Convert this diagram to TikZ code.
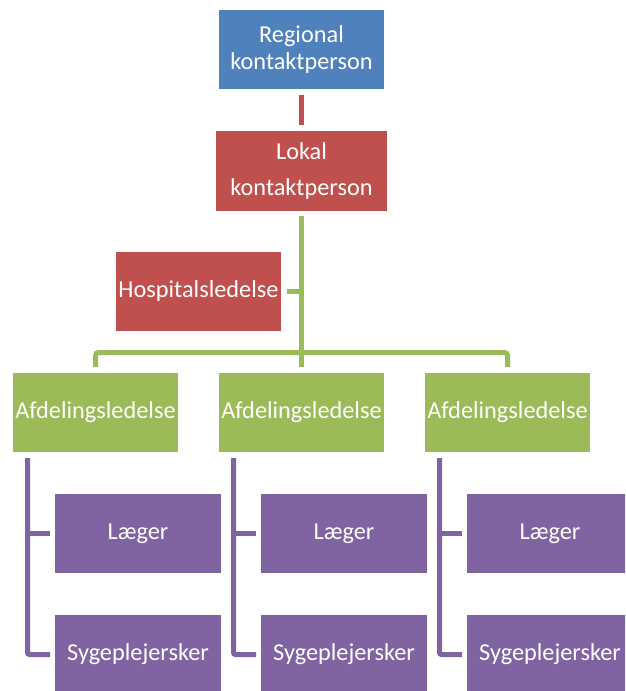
\documentclass[tikz,border=0pt]{standalone}
\usepackage{fontspec}
\setmainfont{Carlito}
\definecolor{cblue}{HTML}{4F81BD}
\definecolor{cred}{HTML}{C0504D}
\definecolor{cgreen}{HTML}{9BBB59}
\definecolor{cpurple}{HTML}{8064A2}
\begin{document}
\begin{tikzpicture}[x=1pt,y=-1pt,
  box/.style={rectangle, inner sep=0pt, outer sep=0pt, text=white, align=center,
    minimum width=165pt, minimum height=79pt, font=\fontsize{24.3}{27}\selectfont},
  gline/.style={draw=cgreen, line width=5pt},
  rline/.style={draw=cred, line width=5pt},
  pline/.style={draw=cpurple, line width=5pt}]
\useasboundingbox (0,0) rectangle (625,691);
\clip (0,0) rectangle (625,691);
\fill[white] (0,0) rectangle (625,691);
% top
\node[box, fill=cblue] (reg) at (301.5,49.5) {Regional\\kontaktperson};
\node[box, fill=cred, minimum width=171pt, minimum height=80pt, font=\fontsize{24.3}{36}\selectfont] (lok) at (301.5,171) {Lokal\\kontaktperson};
\node[box, fill=cred] (hosp) at (198.5,291.5) {Hospitalsledelse};
% department heads
\node[box, fill=cgreen] (afd1) at (95.5,412.5) {Afdelingsledelse};
\node[box, fill=cgreen] (afd2) at (301.5,412.5) {Afdelingsledelse};
\node[box, fill=cgreen] (afd3) at (507.5,412.5) {Afdelingsledelse};
% staff
\node[box, fill=cpurple, minimum width=166pt] (lae1) at (138,533.5) {Læger};
\node[box, fill=cpurple, minimum width=166pt] (syg1) at (138,654.5) {Sygeplejersker};
\node[box, fill=cpurple, minimum width=166pt] (lae2) at (344,533.5) {Læger};
\node[box, fill=cpurple, minimum width=166pt] (syg2) at (344,654.5) {Sygeplejersker};
\node[box, fill=cpurple, minimum width=166pt] (lae3) at (550,533.5) {Læger};
\node[box, fill=cpurple, minimum width=166pt] (syg3) at (550,654.5) {Sygeplejersker};
% connectors
\draw[rline, shorten <=6pt, shorten >=6pt] (reg.south) -- (reg.south |- lok.north);
\coordinate (bar) at (301.5,352.5);
\draw[gline, shorten <=5pt, shorten >=6pt] (lok.south) -- (afd2.north);
\draw[gline, shorten <=6pt] (hosp.east) -- (lok.south |- hosp.east);
\draw[gline, rounded corners=3pt, shorten <=6pt, shorten >=6pt] (afd1.north) |- (bar) -| (afd3.north);
\foreach \i in {1,2,3}{
  \coordinate (v\i) at ([xshift=14.5pt,yshift=-6pt]afd\i.south west);
  \draw[pline, rounded corners=2pt, shorten >=5pt] (v\i) |- (syg\i.west);
  \draw[pline, shorten >=5pt] (v\i |- lae\i.west) -- (lae\i.west);
}
\end{tikzpicture}
\end{document}
